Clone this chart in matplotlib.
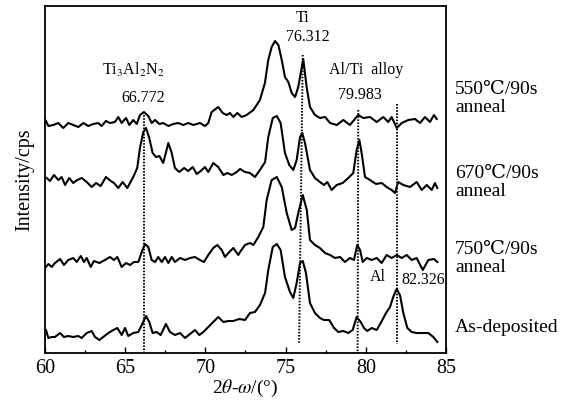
"""
XRD patterns of the Ti/Al/N films: as-deposited and after 90 s anneals
at 550, 670 and 750 C. Curves are stacked with an offset, no y scale.

Output: out.png (579x400)
"""

import matplotlib
matplotlib.use('Agg')
import matplotlib.pyplot as plt
from matplotlib.ticker import MultipleLocator

plt.rcParams['font.family'] = ['Liberation Serif', 'DejaVu Serif', 'Noto Sans CJK SC']
plt.rcParams['mathtext.fontset'] = 'stix'

# ---------------------------------------------------------------------------
# 550 C / 90 s anneal (top curve)
tt_550 = [60.06, 60.21, 60.52, 60.83, 61.14, 61.45, 61.76, 62.08, 62.39, 62.70,
          63.01, 63.32, 63.53, 63.80, 64.05, 64.36, 64.57, 64.78, 65.05, 65.26,
          65.50, 65.72, 65.92, 66.17, 66.44, 66.65, 66.86, 67.13, 67.37, 67.69,
          68.00, 68.31, 68.62, 68.93, 69.25, 69.66, 69.97, 70.18, 70.39, 70.80,
          71.08, 71.33, 71.53, 71.74, 71.99, 72.26, 72.57, 72.99, 73.40, 73.71,
          73.92, 74.13, 74.34, 74.55, 74.76, 74.96, 75.17, 75.38, 75.59, 75.79,
          76.10, 76.31, 76.52, 76.83, 77.14, 77.46, 77.77, 78.19, 78.60, 79.01,
          79.53, 79.84, 80.26, 80.68, 81.09, 81.40, 81.61, 81.93, 82.24, 82.65,
          83.07, 83.38, 83.69, 84.00, 84.25, 84.42]
int_550 = [232, 227, 228, 230, 225, 230, 228, 226, 230, 227,
           229, 230, 227, 232, 230, 231, 236, 230, 235, 228,
           233, 229, 238, 241, 237, 230, 233, 229, 230, 227,
           229, 230, 228, 230, 228, 230, 227, 230, 241, 246,
           240, 238, 240, 236, 240, 236, 238, 243, 253, 270,
           293, 306, 312, 308, 293, 276, 271, 260, 256, 266,
           294, 266, 246, 238, 235, 236, 230, 228, 233, 228,
           238, 235, 236, 231, 236, 231, 236, 225, 230, 233,
           234, 230, 236, 231, 238, 234]

# 670 C / 90 s anneal
tt_670 = [60.11, 60.31, 60.56, 60.83, 61.04, 61.25, 61.51, 61.76, 62.01, 62.29,
          62.60, 62.91, 63.18, 63.47, 63.80, 64.10, 64.30, 64.57, 64.84, 65.13,
          65.50, 65.75, 65.92, 66.13, 66.30, 66.50, 66.71, 66.92, 67.13, 67.37,
          67.69, 67.90, 68.10, 68.37, 68.67, 68.93, 69.21, 69.46, 69.71, 69.97,
          70.18, 70.49, 70.80, 71.12, 71.37, 71.64, 71.95, 72.16, 72.47, 72.78,
          73.09, 73.40, 73.72, 73.92, 74.20, 74.45, 74.69, 74.96, 75.23, 75.48,
          75.69, 75.90, 76.04, 76.21, 76.52, 76.83, 77.14, 77.39, 77.60, 77.87,
          78.19, 78.56, 78.91, 79.22, 79.43, 79.60, 79.74, 79.95, 80.26, 80.64,
          80.99, 81.30, 81.61, 81.82, 82.02, 82.34, 82.76, 83.17, 83.49, 83.80,
          84.11, 84.31, 84.46]
int_670 = [175, 172, 178, 173, 176, 168, 175, 170, 173, 175,
           171, 166, 170, 167, 176, 172, 170, 165, 171, 165,
           176, 185, 205, 221, 225, 215, 200, 196, 197, 190,
           210, 200, 185, 181, 185, 182, 186, 179, 182, 186,
           181, 190, 186, 178, 180, 178, 181, 184, 181, 180,
           176, 183, 191, 216, 235, 237, 230, 200, 188, 183,
           193, 216, 220, 210, 183, 175, 171, 168, 171, 163,
           168, 170, 175, 180, 203, 213, 200, 176, 173, 169,
           170, 166, 163, 160, 171, 168, 166, 171, 163, 168,
           163, 170, 165]

# 750 C / 90 s anneal
tt_750 = [60.06, 60.21, 60.42, 60.62, 60.94, 61.18, 61.45, 61.76, 61.98, 62.23,
          62.43, 62.60, 62.85, 63.05, 63.39, 63.74, 64.05, 64.30, 64.51, 64.78,
          65.05, 65.30, 65.55, 65.82, 66.03, 66.23, 66.44, 66.65, 66.86, 67.06,
          67.28, 67.48, 67.69, 67.90, 68.10, 68.42, 68.73, 69.04, 69.35, 69.66,
          69.91, 70.18, 70.49, 70.74, 71.02, 71.22, 71.43, 71.74, 72.05, 72.16,
          72.47, 72.78, 72.99, 73.30, 73.61, 73.82, 74.13, 74.45, 74.76, 75.07,
          75.38, 75.59, 75.79, 76.07, 76.32, 76.52, 76.83, 77.14, 77.46, 77.77,
          78.08, 78.39, 78.70, 79.01, 79.26, 79.47, 79.64, 79.81, 80.06, 80.37,
          80.68, 80.99, 81.30, 81.61, 81.93, 82.24, 82.55, 82.86, 83.17, 83.55,
          83.90, 84.25, 84.46]
int_750 = [86, 89, 86, 90, 94, 88, 93, 95, 91, 97,
           91, 95, 86, 92, 90, 93, 96, 93, 96, 86,
           90, 88, 91, 91, 101, 109, 106, 93, 91, 96,
           91, 96, 90, 96, 91, 95, 93, 95, 96, 93,
           91, 98, 105, 108, 103, 96, 100, 105, 98, 101,
           108, 110, 108, 116, 126, 153, 173, 176, 166, 140,
           123, 125, 140, 158, 143, 113, 108, 105, 100, 98,
           95, 96, 91, 95, 93, 108, 103, 91, 95, 93,
           95, 90, 98, 95, 98, 95, 98, 93, 95, 83,
           93, 94, 91]

# As-deposited (bottom curve)
tt_dep = [60.06, 60.21, 60.42, 60.62, 60.94, 61.18, 61.45, 61.76, 62.08, 62.29,
          62.60, 62.91, 63.12, 63.39, 63.63, 63.95, 64.26, 64.51, 64.78, 64.99,
          65.19, 65.50, 65.82, 66.03, 66.30, 66.50, 66.71, 66.96, 67.21, 67.54,
          67.79, 68.10, 68.42, 68.73, 69.04, 69.35, 69.62, 69.87, 70.18, 70.49,
          70.80, 71.12, 71.43, 71.74, 72.11, 72.47, 72.78, 73.09, 73.40, 73.72,
          73.92, 74.20, 74.45, 74.69, 74.96, 75.27, 75.48, 75.69, 75.90, 76.07,
          76.27, 76.52, 76.83, 77.14, 77.39, 77.72, 78.02, 78.29, 78.60, 78.91,
          79.18, 79.43, 79.68, 79.89, 80.09, 80.37, 80.68, 80.93, 81.26, 81.51,
          81.71, 81.92, 82.13, 82.34, 82.59, 82.86, 83.17, 83.49, 83.90, 84.21,
          84.46]
int_dep = [23, 15, 16, 16, 20, 16, 17, 16, 17, 15,
           20, 22, 16, 13, 16, 20, 23, 25, 18, 25,
           17, 20, 21, 28, 37, 31, 20, 21, 18, 29,
           21, 18, 20, 15, 19, 23, 18, 21, 26, 31,
           36, 31, 32, 32, 34, 33, 40, 41, 48, 60,
           83, 106, 109, 103, 76, 61, 55, 70, 90, 92,
           80, 50, 40, 35, 33, 33, 25, 21, 22, 20,
           23, 36, 31, 25, 22, 25, 23, 30, 40, 46,
           56, 64, 58, 40, 25, 21, 20, 20, 20, 16,
           11]

# dotted peak markers: (x_top, y_top, x_bottom, y_bottom)
markers = [
    (66.17, 241, 66.17, 1),
    (76.07, 298, 75.84, 9),
    (79.53, 243, 79.49, 0),
    (81.93, 249, 81.93, 9),
]

peak_labels = [
    ('Ti', 76.07, 335),
    ('76.312', 76.40, 316),
    (r'Ti$_3$Al$_2$N$_2$', 65.49, 283),
    ('66.772', 66.11, 255),
    ('Al/Ti  alloy', 80.01, 283),
    ('79.983', 79.60, 258),
    ('Al', 80.76, 76),
    ('82.326', 83.55, 73),
]

# sample names, placed to the right of the frame (figure y in pixels)
sample_labels = [
    ('550℃/90s', 90), ('anneal', 108),
    ('670℃/90s', 173), ('anneal', 191),
    ('750℃/90s', 250), ('anneal', 268),
    ('As-deposited', 328),
]
# ---------------------------------------------------------------------------

W, H = 579, 400
fig = plt.figure(figsize=(W / 100, H / 100), dpi=100)
ax = fig.add_axes([45 / W, 1 - 353 / H, 401 / W, 347 / H])

for tt, inten in [(tt_550, int_550), (tt_670, int_670),
                  (tt_750, int_750), (tt_dep, int_dep)]:
    ax.plot(tt, inten, color='black', lw=1.5, solid_joinstyle='round')

for x0, y0, x1, y1 in markers:
    ax.plot([x0, x1], [y0, y1], color='black', lw=1.4, ls=(0, (0.8, 0.8)))

for txt, x, y in peak_labels:
    ax.text(x, y, txt, fontsize=11.5, ha='center', va='center')

for txt, ypx in sample_labels:
    fig.text(455 / W, 1 - ypx / H, txt, fontsize=14, ha='left', va='center')

ax.set_xlim(60, 85)
ax.set_ylim(0, 347)
ax.xaxis.set_major_locator(MultipleLocator(5))
ax.xaxis.set_minor_locator(MultipleLocator(2.5))
ax.set_yticks([])
ax.tick_params(axis='x', which='major', direction='in', length=4.5, width=1,
               labelsize=14.5, pad=4)
ax.tick_params(axis='x', which='minor', direction='in', length=2.5, width=1)
for sp in ax.spines.values():
    sp.set_linewidth(1.3)

ax.set_xlabel(r'2$\theta$-$\omega$/(°)', fontsize=14, labelpad=0)
ax.set_ylabel('Intensity/cps', fontsize=14.5, labelpad=8)

fig.savefig('out.png', dpi=100)
